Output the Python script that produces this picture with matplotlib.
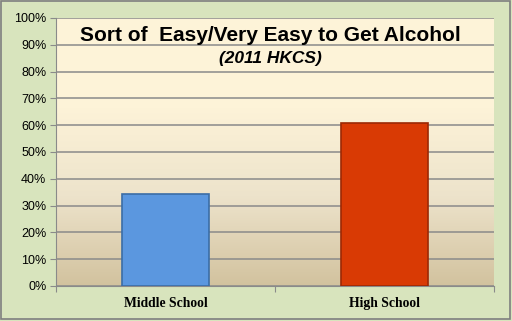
import numpy as np
import matplotlib
matplotlib.use('Agg')
import matplotlib.pyplot as plt
from matplotlib.colors import LinearSegmentedColormap
from matplotlib.patches import Rectangle

categories = ['Middle School', 'High School']
values = [34.5, 61.0]
bar_colors = ['#5B97DF', '#D93A04']
edge_colors = ['#3B6DA6', '#9C2804']

fig = plt.figure(figsize=(5.12, 3.21), dpi=100)
fig.patch.set_facecolor('#D8E4BD')
fig.patches.append(Rectangle((0.002, 0.006), 0.994, 0.99, transform=fig.transFigure,
                             fill=False, edgecolor='#7F7F7F', linewidth=1.2))

ax = fig.add_axes([56 / 512, 1 - 286 / 321, 438 / 512, 268 / 321])
ax.set_xlim(0, 2)
ax.set_ylim(0, 100)

# background gradient of plot area
cmap = LinearSegmentedColormap.from_list('bg', ['#D2C29E', '#EDE3CB', '#FDF3D8', '#FEF4D9'])
grad = np.linspace(0, 1, 256).reshape(-1, 1)
ax.imshow(grad, aspect='auto', cmap=cmap, origin='lower', extent=(0, 2, 0, 100), zorder=0)

ax.set_yticks(range(0, 101, 10))
ax.set_yticklabels([f'{v}%' for v in range(0, 101, 10)], fontsize=9, family='Liberation Sans')
ax.yaxis.grid(True, color='#8A8A8A', linewidth=1.1, zorder=1)
ax.set_axisbelow(False)

x = np.arange(len(categories)) + 0.5
ax.bar(x, values, width=0.40, color=bar_colors, edgecolor=edge_colors, linewidth=1.2, zorder=3)

ax.set_xticks([0, 1, 2])
ax.set_xticklabels([])
ax.set_xticks(x, minor=True)
ax.set_xticklabels(categories, minor=True, fontsize=9.8, family='Liberation Serif', fontweight='bold')
ax.tick_params(axis='x', which='minor', length=0, pad=8)
ax.tick_params(axis='x', which='major', length=4, color='#8A8A8A')
ax.tick_params(axis='y', length=4, color='#8A8A8A', pad=3)

for s in ['top', 'right']:
    ax.spines[s].set_visible(False)
for s in ['left', 'bottom']:
    ax.spines[s].set_color('#8A8A8A')

ax.text(0.98, 93.5, 'Sort of  Easy/Very Easy to Get Alcohol', ha='center', va='center',
        fontsize=15, fontweight='bold', family='Liberation Sans', zorder=4)
ax.text(0.98, 85, '(2011 HKCS)', ha='center', va='center', fontsize=12.5,
        fontweight='bold', fontstyle='italic', family='Liberation Sans', zorder=4)

fig.savefig('out.png', dpi=100, facecolor=fig.get_facecolor())
